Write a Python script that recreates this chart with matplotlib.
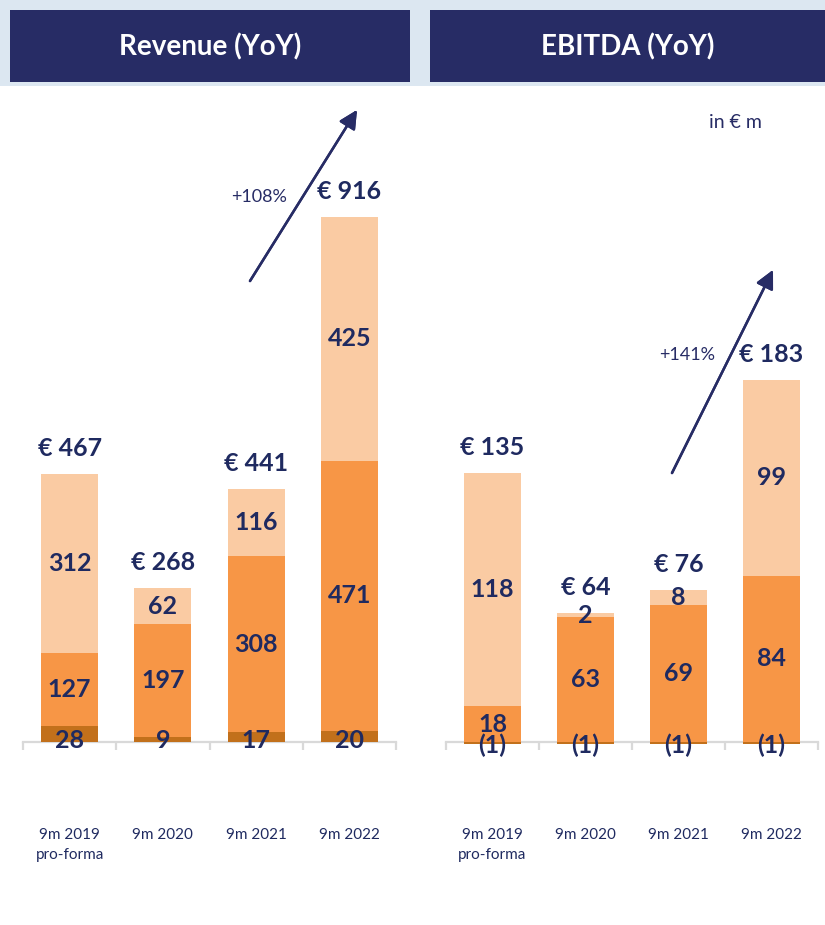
import numpy as np
import matplotlib
matplotlib.use("Agg")
import matplotlib.pyplot as plt
from matplotlib.patches import Rectangle

plt.rcParams['font.family'] = ['Lato', 'DejaVu Sans']

# data (in EUR m)
periods = ["9m 2019\npro-forma", "9m 2020", "9m 2021", "9m 2022"]
rev_bottom = [28, 9, 17, 20]
rev_mid = [127, 197, 308, 471]
rev_top = [312, 62, 116, 425]
rev_total = [467, 268, 441, 916]
ebitda_bottom = [-1, -1, -1, -1]
ebitda_mid = [18, 63, 69, 84]
ebitda_top = [118, 2, 8, 99]
ebitda_total = [135, 64, 76, 183]

NAVY = "#272C65"
TXT = "#1F2A60"
C_DARK = "#C2701B"
C_MID = "#F79646"
C_LIGHT = "#FACBA3"

W, H = 825, 925
fig = plt.figure(figsize=(W / 100, H / 100), dpi=100)
fig.patch.set_facecolor("white")


def px(x, y, w, h):
    # image pixel box (top-left origin) -> figure fraction rect
    return [x / W, 1 - (y + h) / H, w / W, h / H]


# light blue top band + header bars
fig.add_artist(Rectangle((0, 1 - 86 / H), 1, 86 / H, transform=fig.transFigure,
                         facecolor="#DCE7F1", edgecolor="none", zorder=0))
for (x0, x1, title) in [(10, 410, "Revenue (YoY)"), (430, 825, "EBITDA (YoY)")]:
    fig.add_artist(Rectangle((x0 / W, 1 - 82 / H), (x1 - x0) / W, 72 / H,
                             transform=fig.transFigure, facecolor=NAVY,
                             edgecolor="none", zorder=1))
    fig.text((x0 + x1) / 2 / W, 1 - 47 / H, title, color="white", fontsize=20,
             fontweight="bold", ha="center", va="center", zorder=2)


def panel(rect, bottom, mid, top, total, scale, bot_label_y):
    ax = fig.add_axes(rect)
    x = np.arange(len(periods))
    wd = 0.61
    mid_base = [max(b, 0) for b in bottom]
    top_base = [mb + m for mb, m in zip(mid_base, mid)]
    ax.bar(x, bottom, wd, color=C_DARK, zorder=2)
    ax.bar(x, mid, wd, bottom=mid_base, color=C_MID, zorder=2)
    ax.bar(x, top, wd, bottom=top_base, color=C_LIGHT, zorder=2)

    for i in range(len(x)):
        b, m, t = bottom[i], mid[i], top[i]
        lab_b = "(%d)" % abs(b) if b < 0 else "%d" % b
        ax.text(x[i], bot_label_y, lab_b, ha="center", va="center", fontsize=18,
                fontweight="bold", color=TXT, zorder=3)
        ax.text(x[i], mid_base[i] + m / 2, "%d" % m, ha="center", va="center",
                fontsize=18, fontweight="bold", color=TXT, zorder=3)
        ax.text(x[i], top_base[i] + t / 2, "%d" % t, ha="center", va="center",
                fontsize=18, fontweight="bold", color=TXT, zorder=3)
        ax.annotate("€ %d" % total[i], (x[i], top_base[i] + t), xytext=(0, 14),
                    textcoords="offset pixels", ha="center", va="bottom",
                    fontsize=18, fontweight="bold", color=TXT, zorder=3)

    ax.set_xlim(-0.5, 3.5)
    ax.set_ylim(-10 / scale, 642 / scale)
    for s in ["top", "right", "left"]:
        ax.spines[s].set_visible(False)
    ax.spines["bottom"].set_position(("data", 0))
    ax.spines["bottom"].set_color("#D9D9D9")
    ax.spines["bottom"].set_linewidth(1.6)
    ax.spines["bottom"].set_zorder(1)
    ax.set_yticks([])
    ax.set_xticks([-0.5, 0.5, 1.5, 2.5, 3.5])
    ax.set_xticklabels([])
    ax.tick_params(axis="x", which="major", direction="out", length=6,
                   width=1.6, color="#D9D9D9")
    ax.set_xticks(x, minor=True)
    ax.set_xticklabels(periods, minor=True, fontsize=11, color=TXT,
                       linespacing=1.55, va="top")
    ax.tick_params(axis="x", which="minor", length=0, pad=62)
    ax.patch.set_alpha(0)
    return ax


rev_scale = 0.573
eb_scale = 1.98
ax1 = panel(px(23, 100, 373, 652), rev_bottom, rev_mid, rev_top, rev_total,
            rev_scale, 3)
ax2 = panel(px(446, 100, 372, 652), ebitda_bottom, ebitda_mid, ebitda_top,
            ebitda_total, eb_scale, -1.5)

# growth arrows and labels
arrow_kw = dict(arrowstyle="-|>,head_length=1.1,head_width=0.55", color=NAVY,
                lw=1.8, shrinkA=0, shrinkB=0)
fig.add_artist(plt.annotate("", xy=(357, H - 110), xytext=(250, H - 281),
                            xycoords="figure pixels", arrowprops=arrow_kw))
fig.add_artist(plt.annotate("", xy=(773, H - 270), xytext=(672, H - 473),
                            xycoords="figure pixels", arrowprops=arrow_kw))
fig.text(259 / W, 1 - 197 / H, "+108%", fontsize=13, color=NAVY,
         ha="center", va="center")
fig.text(687 / W, 1 - 355 / H, "+141%", fontsize=13, color=NAVY,
         ha="center", va="center")
fig.text(735 / W, 1 - 123 / H, "in € m", fontsize=14, color=NAVY,
         ha="center", va="center")

fig.savefig("out.png", dpi=100, facecolor=fig.get_facecolor())
